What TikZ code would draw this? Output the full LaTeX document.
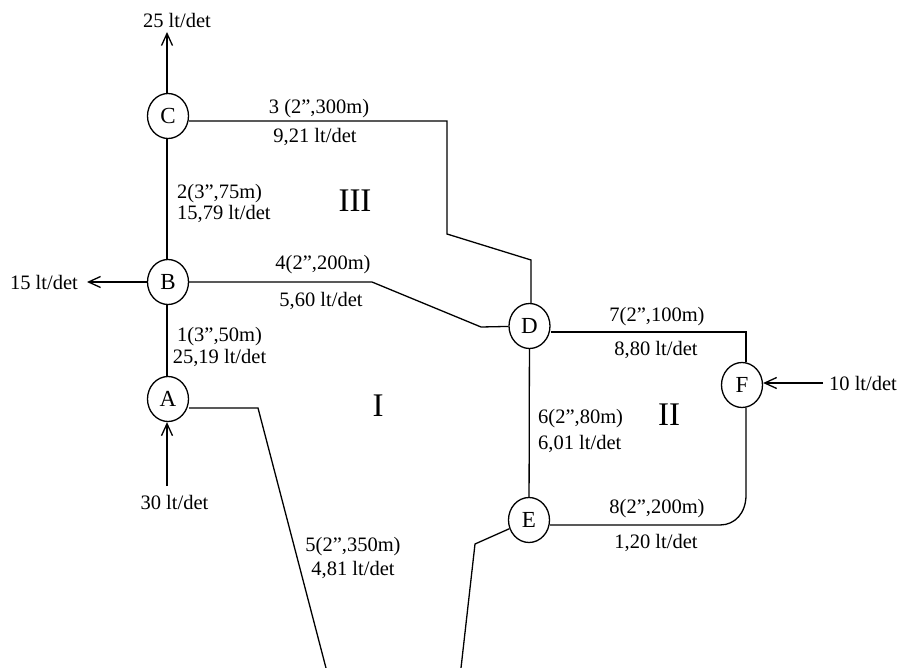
\documentclass[tikz,border=0pt]{standalone}
\usepackage{fontspec}
\setmainfont{Liberation Serif}
\usetikzlibrary{arrows.meta,shapes.geometric}
\begin{document}
\begin{tikzpicture}[x=1pt,y=-1pt,
 junction/.style={draw,ellipse,fill=white,line width=1.3pt,minimum width=41pt,minimum height=45pt,inner sep=0pt,font=\fontsize{23}{23}\selectfont},
 pipe/.style={line width=1.3pt},
 flow/.style={line width=1.3pt,-{Straight Barb[length=12pt,width=11pt]}},
 lab/.style={inner sep=0pt,font=\fontsize{20.5}{21}\selectfont,align=center},
 lableft/.style={lab,align=left},
 loopname/.style={inner sep=0pt,font=\fontsize{33}{33}\selectfont}]
\useasboundingbox (0,0) rectangle (900,668);
\coordinate (top) at (167,32);
\coordinate (left) at (87,282);
\coordinate (botend) at (167,486);
\coordinate (right) at (823,383);
\coordinate (p1) at (258,408);
\coordinate (p2) at (326,668);
\coordinate (p3) at (461,668);
\coordinate (p4) at (475,544);
\coordinate (p5) at (447,121);
\coordinate (p6) at (447,234);
\coordinate (p7) at (531,260);
\coordinate (p8) at (372,282);
\coordinate (p9) at (481,327);
\coordinate (p10) at (746,332);
\coordinate (p11) at (746,495);
\coordinate (p12) at (720,525);
\node[junction] (C) at (168,116) {C};
\node[junction] (B) at (168,282) {B};
\node[junction] (A) at (168,399) {A};
\node[junction] (D) at (529.5,326) {D};
\node[junction] (E) at (529,520) {E};
\node[junction] (F) at (742,385) {F};
\draw[pipe] (C.south -| top) -- (B.north -| top);
\draw[pipe] (B.south -| top) -- (A.north -| top);
\draw[pipe] (C.east |- p5) -- (p5) -- (p6) -- (p7) -- (D.north -| p7);
\draw[pipe] (B) -- (p8) -- (p9) -- (D);
\draw[pipe] (A.east |- p1) -- (p1) -- (p2);
\draw[pipe] (p3) -- (p4) -- (E);
\draw[pipe] (D) -- (E);
\draw[pipe] (D.east |- p10) -- (p10) -- (F.north -| p10);
\draw[pipe] (F.south -| p10) -- (p11) .. controls (746,513) and (735,525) .. (p12) -- (E.east |- p12);
\draw[flow] (C.north -| top) -- (top);
\draw[flow] (B) -- (left);
\draw[flow] (botend) -- (A.south -| botend);
\draw[flow] (right) -- (F.east |- right);
\node[lab] (t1) at (177,20) {25 lt/det};
\node[lab] (t2) at (44,282) {15 lt/det};
\node[lab] (t3) at (174.5,502) {30 lt/det};
\node[lab] (t4) at (863,383) {10 lt/det};
\node[lab] (n3a) at (319,109) {3 (2”,300m)};
\node[lab] (n3b) at (315,137) {9,21 lt/det};
\node[lableft,anchor=west] (n2) at (177,203) {2(3”,75m)\\15,79 lt/det};
\node[lab] (n4a) at (323,265) {4(2”,200m)};
\node[lab] (n4b) at (321,301) {5,60 lt/det};
\node[lab] (n1) at (219.5,347) {1(3”,50m)\\[1pt]25,19 lt/det};
\node[lab] (n5) at (353,558) {5(2”,350m)\\[3pt]4,81 lt/det};
\node[lableft,anchor=west] (n6) at (538,431) {6(2”,80m)\\[5pt]6,01 lt/det};
\node[lab] (n7a) at (657,317) {7(2”,100m)};
\node[lab] (n7b) at (656,350) {8,80 lt/det};
\node[lab] (n8a) at (657,509) {8(2”,200m)};
\node[lab] (n8b) at (656,543) {1,20 lt/det};
\node[loopname] (III) at (355,201) {III};
\node[loopname] (I) at (378,406) {I};
\node[loopname] (II) at (669,415) {II};
\end{tikzpicture}
\end{document}
